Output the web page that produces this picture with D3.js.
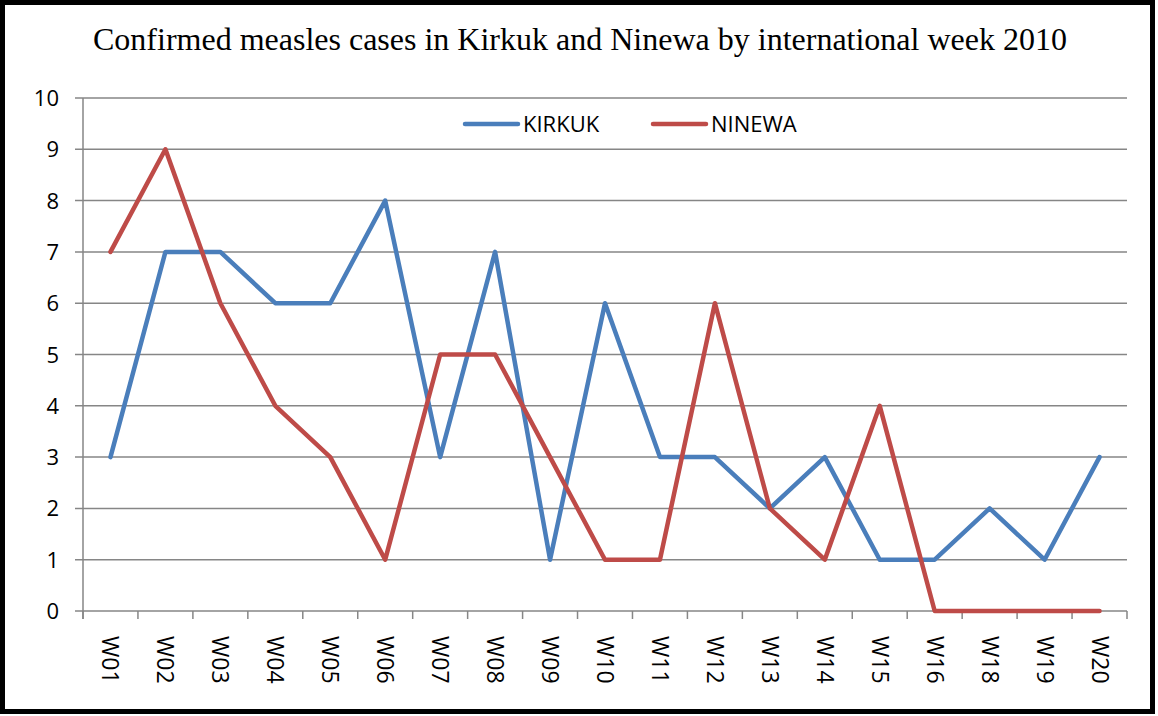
<!DOCTYPE html>
<html>
<head>
<meta charset="utf-8">
<script src="https://cdn.jsdelivr.net/npm/d3@7"></script>
<style>
body { margin: 0; background: white; }
</style>
</head>
<body>
<script>
// chart data
var weeks = ["W01","W02","W03","W04","W05","W06","W07","W08","W09","W10","W11","W12","W13","W14","W15","W16","W18","W19","W20"];
var kirkuk = [3,7,7,6,6,8,3,7,1,6,3,3,2,3,1,1,2,1,3];
var ninewa = [7,9,6,4,3,1,5,5,3,1,1,6,2,1,4,0,0,0,0];
var yTicks = [0,1,2,3,4,5,6,7,8,9,10];
var seriesNames = ["KIRKUK","NINEWA"];

draw();

function draw(){
var W = 1158, H = 716;
var plotLeft = 83, plotRight = 1127, plotTop = 98, plotBottom = 611;
var blue = "#4a7ebb", red = "#be4b48", grid = "#868686";
var sans = "'Open Sans', 'Liberation Sans', sans-serif";

var svg = d3.select("body").append("svg")
	.attr("width", W).attr("height", H);

/* outer frame */
svg.append("rect")
	.attr("x", 2.5).attr("y", 2.5).attr("width", 1150).attr("height", 709)
	.attr("fill", "white").attr("stroke", "black").attr("stroke-width", 5);

svg.append("text")
	.attr("x", 580).attr("y", 50)
	.attr("text-anchor", "middle")
	.style("font-family", "'Liberation Serif', 'Times New Roman', serif")
	.style("font-size", "32px")
	.text("Confirmed measles cases in Kirkuk and Ninewa by international week 2010");

var x = d3.scaleBand().domain(weeks).range([plotLeft, plotRight]);
var y = d3.scaleLinear().domain([0, 10]).range([plotBottom, plotTop]);

/* gridlines */
svg.append("g").selectAll("line").data(yTicks).enter().append("line")
	.attr("x1", plotLeft - 8).attr("x2", plotRight)
	.attr("y1", function(d){ return y(d); }).attr("y2", function(d){ return y(d); })
	.attr("stroke", grid).attr("stroke-width", 1.5);

/* y axis */
svg.append("line")
	.attr("x1", plotLeft).attr("x2", plotLeft).attr("y1", plotTop).attr("y2", plotBottom + 8)
	.attr("stroke", grid).attr("stroke-width", 1.5);

svg.append("g").selectAll("text").data(yTicks).enter().append("text")
	.attr("x", 59).attr("y", function(d){ return y(d) + 8; })
	.attr("text-anchor", "end")
	.style("font-family", sans)
	.style("font-size", "22px")
	.text(function(d){ return d; });

/* x ticks at category boundaries */
var bounds = weeks.map(function(w){ return x(w); }).concat([plotRight]);
svg.append("g").selectAll("line").data(bounds).enter().append("line")
	.attr("x1", function(d){ return d; }).attr("x2", function(d){ return d; })
	.attr("y1", plotBottom).attr("y2", plotBottom + 8)
	.attr("stroke", grid).attr("stroke-width", 1.5);

svg.append("g").selectAll("text").data(weeks).enter().append("text")
	.attr("transform", function(d){
		return "translate(" + (x(d) + x.bandwidth() / 2 - 8) + "," + 636 + ") rotate(90)";
	})
	.attr("text-anchor", "start")
	.style("font-family", sans)
	.style("font-size", "23px")
	.text(function(d){ return d; });

/* lines */
var line = d3.line()
	.x(function(d, i){ return x(weeks[i]) + x.bandwidth() / 2; })
	.y(function(d){ return y(d); });

[[kirkuk, blue], [ninewa, red]].forEach(function(s){
	svg.append("path")
		.attr("d", line(s[0]))
		.attr("fill", "none").attr("stroke", s[1])
		.attr("stroke-width", 4.5)
		.attr("stroke-linejoin", "round").attr("stroke-linecap", "round");
});

/* legend */
var legendX = [465, 653];
seriesNames.forEach(function(n, i){
	svg.append("line")
		.attr("x1", legendX[i]).attr("x2", legendX[i] + 53)
		.attr("y1", 124).attr("y2", 124)
		.attr("stroke", i == 0 ? blue : red).attr("stroke-width", 4.5)
		.attr("stroke-linecap", "round");
	svg.append("text")
		.attr("x", legendX[i] + 58).attr("y", 132)
		.style("font-family", sans)
		.style("font-size", "22px")
		.text(n);
});
}
</script>
</body>
</html>
